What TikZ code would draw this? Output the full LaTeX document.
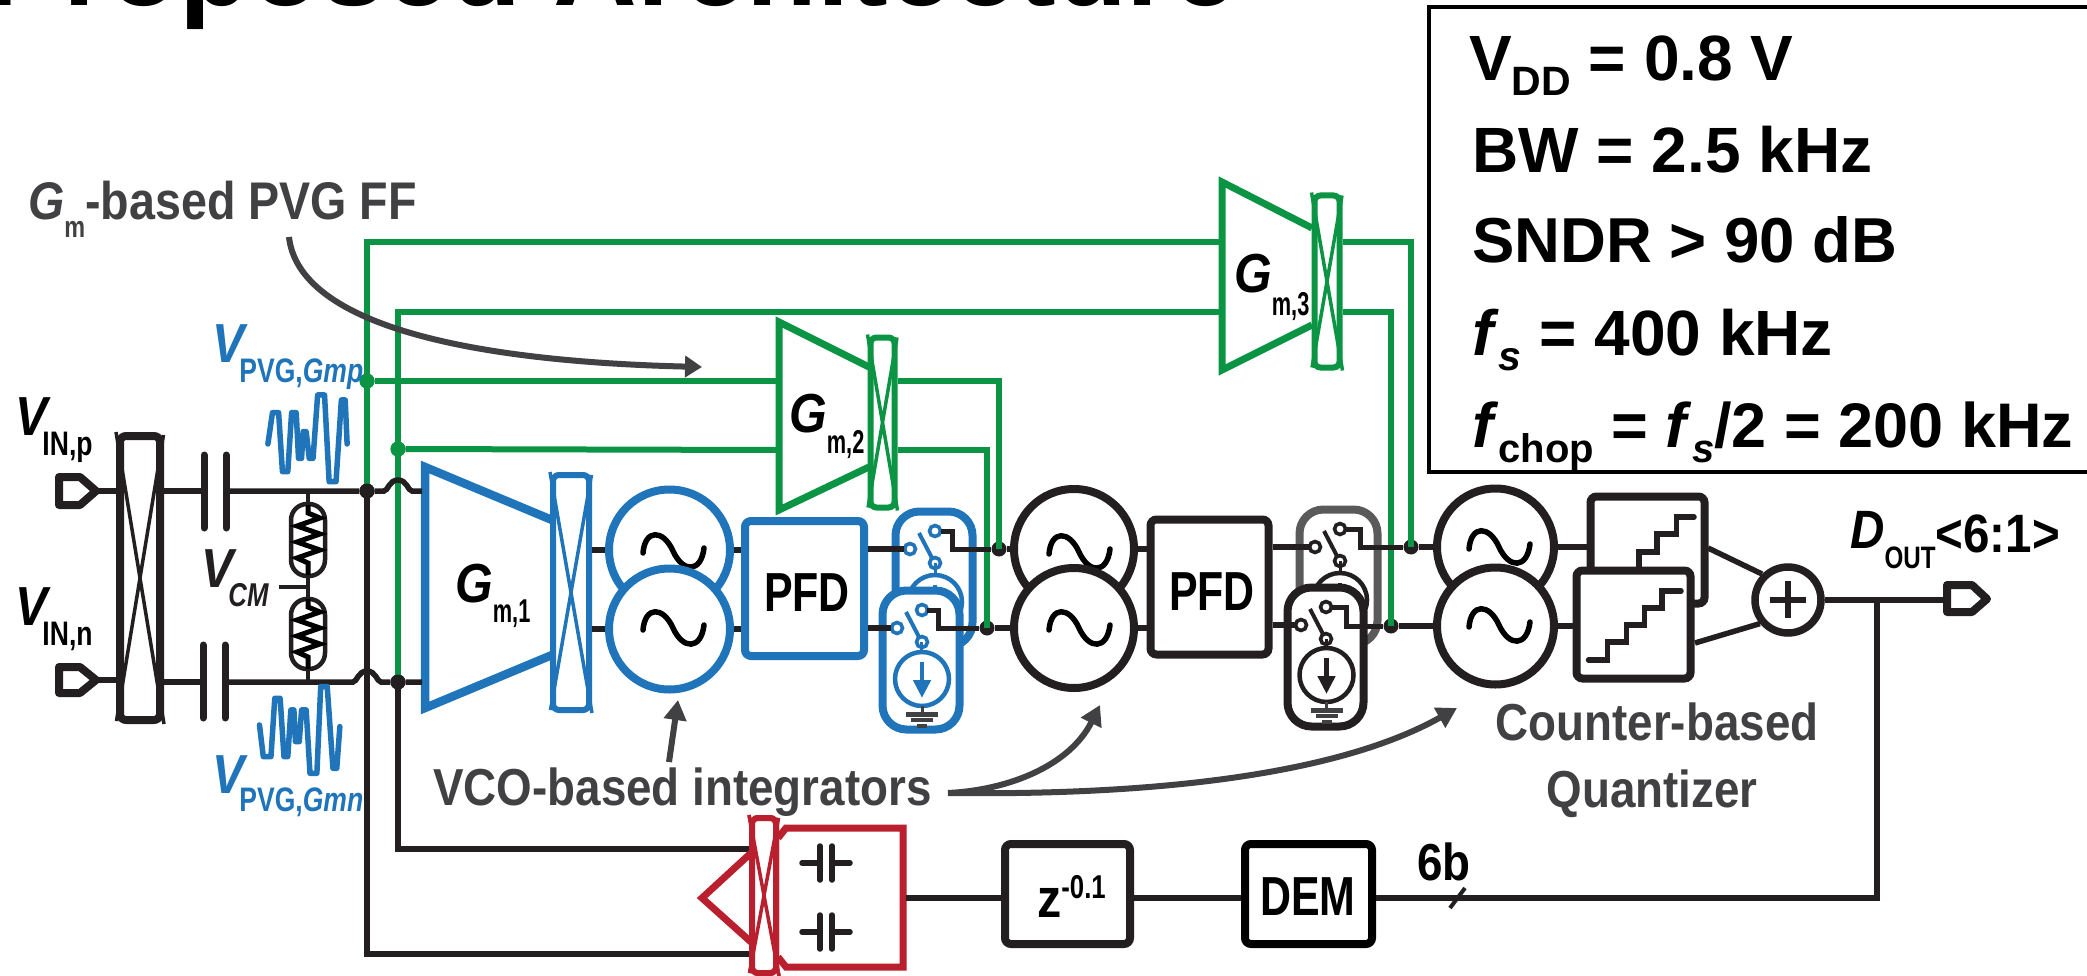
\documentclass[tikz,border=0pt]{standalone}
\usepackage{fontspec}
\usepackage{graphicx}
\setmainfont{Liberation Sans}
\newfontfamily\nar[FakeStretch=0.88]{Liberation Sans}
\newfontfamily\narr[FakeStretch=0.78]{Liberation Sans}
\newfontfamily\narrr[FakeStretch=0.66]{Liberation Sans}
\usetikzlibrary{arrows.meta,calc}
\definecolor{cblue}{HTML}{1F74BA}
\definecolor{cgreen}{HTML}{0B9444}
\definecolor{cred}{HTML}{BA1F2E}
\definecolor{cblack}{HTML}{231F20}
\definecolor{cgrey}{HTML}{414042}
\definecolor{cswgrey}{HTML}{5A5A5A}
\newcommand\fs[1]{\fontsize{#1}{#1}\selectfont}
\newcommand\lowr[3]{\raisebox{-#1pt}{\fontsize{#2}{#2}\selectfont #3}}
\newcommand\chopper[7]{%
  \node[draw=#6,line width=#7pt,rounded corners=6pt,minimum width=#4pt,minimum height=#5pt,inner sep=0pt,fill=white] (#1) at (#2,#3) {};
  \draw[#6,line width=3.5pt,shorten <=3pt,shorten >=3pt] (#1.north west)--(#1.south east) (#1.north east)--(#1.south west);}
\tikzset{
  wire/.style={cblack,line width=5.5pt},
  gw/.style={cgreen,line width=6pt},
  thk/.style={cblack,line width=7pt,line cap=round},
  jdot/.style={circle,fill=cblack,inner sep=0pt,minimum size=15pt},
  gdot/.style={circle,fill=cgreen,inner sep=0pt,minimum size=15pt},
  vco/.style={circle,draw=#1,fill=white,line width=8pt,inner sep=0pt},
  blk/.style={rectangle,draw=#1,fill=white,line width=8pt,rounded corners=6pt,inner sep=0pt},
  swbox/.style={rectangle,draw=#1,fill=white,line width=8pt,rounded corners=24pt,inner sep=0pt},
  txt/.style={inner sep=0pt,anchor=base west},
  ctxt/.style={inner sep=0pt,anchor=base},
  pill/.style={rectangle,draw=cblack,fill=white,line width=4.5pt,rounded corners=16pt,inner sep=0pt,minimum width=34pt},
  gra/.style={cgrey,line width=6pt,-{Triangle[length=20pt,width=22pt]}},
  pics/tilde/.style={code={\draw[black,line width=5.5pt,line cap=round] (-30,2) .. controls (-28,-22) and (-10,-22) .. (0,0) .. controls (10,22) and (28,22) .. (31,-3);}},
  pics/swit/.style={code={
    \draw[#1,line width=4pt] (9,-16)--(22,9);
    \draw[#1,line width=3.6pt,fill=white] (0,0) circle (5.5pt) (25,-18) circle (5.5pt) (25,14) circle (5.5pt);}},
  pics/curs/.style={code={
    \draw[#1,line width=4.5pt,fill=white] (0,0) circle (27pt);
    \draw[#1,line width=4.5pt,-{Triangle[length=18pt,width=17pt]}] (0,-17)--(0,19);
    \draw[cgrey,line width=3pt] (0,27)--(0,34);
    \draw[cgrey,line width=5pt] (-16,35)--(16,35);
    \draw[cgrey,line width=4pt] (-11,41)--(11,41);
    \draw[cgrey,line width=4pt] (-5,47)--(5,47);}},
  pics/fbcap/.style={code={
    \draw[cblack,line width=5.5pt,line cap=round] (-24,0)--(-6,0) (6,0)--(24,0) (-6,-17)--(-6,17) (6,-17)--(6,17);}},
  pics/zig/.style={code={
    \draw[black,line width=5pt,line join=miter] (0,-35)--(0,-27)--(12,-22)--(-11,-14)--(12,-6)--(-11,2)--(12,10)--(-11,18)--(0,23)--(0,35);}},
}
\begin{document}
\begin{tikzpicture}[x=1pt,y=-1pt]
\useasboundingbox (0,0) rectangle (2087,976);
\clip (0,0) rectangle (2087,976);
\fill[white] (0,0) rectangle (2087,976);

% title
\node[txt,font=\fs{116}\bfseries] (title) at (-14,6) {Proposed Architecture};

% spec box
\draw[black,line width=4.5pt] (2095,7) -- (1429,7) -- (1429,472) -- (2095,472);
\node[txt,font=\fs{64}\bfseries] (s1) at (1469,81) {V\lowr{15}{41}{DD} = 0.8 V};
\node[txt,font=\fs{64}\bfseries] (s2) at (1472,173) {BW = 2.5 kHz};
\node[txt,font=\fs{63.5}\bfseries] (s3) at (1472,263) {SNDR > 90 dB};
\node[txt,font=\fs{64}\bfseries] (s4) at (1472,355) {\textit{f}\lowr{15}{41}{\textit{s}} = 400 kHz};
\node[txt,font=\fs{63}\bfseries] (s5) at (1472,447) {\textit{f}\lowr{15}{40}{chop} = \textit{f}\lowr{15}{40}{\textit{s}}/2 = 200 kHz};

% ===== named anchor points
\coordinate (gA) at (367,242);
\coordinate (gB) at (398,312);
\coordinate (gm3a) at (1220,242);
\coordinate (gm3b) at (1220,312);
\coordinate (gm2a) at (777,381);
\coordinate (gm2b) at (777,450);

% ===== Gm2 and Gm3 (green)
\draw[cgreen,line width=7pt,line join=miter,fill=white] (1312,228) -- (1222,182) -- (1222,370) -- (1312,325);
\draw[cgreen,line width=7pt,line join=miter,fill=white] (869,367) -- (779,322) -- (779,510) -- (869,467);
\chopper{ch3}{1327}{281.5}{25}{172}{cgreen}{6}
\chopper{ch2}{882.5}{422.5}{24}{170}{cgreen}{6}
\node[txt,font=\fs{55}\nar\bfseries] (g3t) at (1234,292) {\textit{G}\lowr{23}{33}{\narrr m,3}};
\node[txt,font=\fs{55}\nar\bfseries] (g2t) at (789,432) {\textit{G}\lowr{21}{33}{\narrr m,2}};

% ===== junction dots first positions
\node[jdot] (d1) at (367,491) {};
\node[jdot] (d2) at (398,682) {};
\node[jdot] (dU2) at (999,549) {};
\node[jdot] (dD2) at (987,628) {};
\node[jdot] (dU3) at (1411,547) {};
\node[jdot] (dD3) at (1391,626) {};
\node[gdot] (gd1) at (367,381) {};
\node[gdot] (gd2) at (398,449) {};

% green connectors
\draw[gw,line join=miter] (d1.center) -- (gA) -- (gm3a);
\draw[gw,line join=miter] (d2.center) -- (gB) -- (gm3b);
\draw[gw] (gd1) -- (gm2a);
\draw[gw] (gd2) -- (gm2b);
\draw[gw,line join=miter] (ch3.east |- gA) -| (dU3.center);
\draw[gw,line join=miter] (ch3.east |- gB) -| (dD3.center);
\draw[gw,line join=miter] (ch2.east |- gm2a) -| (dU2.center);
\draw[gw,line join=miter] (ch2.east |- gm2b) -| (dD2.center);
\node[gdot] at (gd1) {};
\node[gdot] at (gd2) {};

% ===== input pads
\draw[cblack,line width=8pt,line join=round] (59,477) -- (80,477) -- (96,491) -- (80,505) -- (59,505) -- cycle;
\draw[cblack,line width=8pt,line join=round] (59,667) -- (80,667) -- (96,680) -- (80,693) -- (59,693) -- cycle;
\coordinate (padp) at (97,491);
\coordinate (padn) at (97,680);
\chopper{ch0}{140}{578}{40}{284}{cblack}{8}
\draw[wire] (padp) -- (ch0.west |- padp);
\draw[wire] (padn) -- (ch0.west |- padn);
% caps
\coordinate (cu1) at (204,491);
\coordinate (cu2) at (226,491);
\coordinate (cd1) at (203,682);
\coordinate (cd2) at (225,682);
\draw[wire] (ch0.east |- cu1) -- (cu1);
\draw[wire] (ch0.east |- cd1) -- (cd1);
\draw[thk] (204,455)--(204,528) (226,455)--(226,528) (203,645)--(203,718) (225,645)--(225,718);

% ===== Gm1
\chopper{ch1}{571}{592.5}{36}{235}{cblue}{6}
\draw[cblue,line width=8.5pt,line join=miter] (552,520) -- (425,467) -- (425,708) -- (552,655);
\coordinate (g1a) at (422,491);
\coordinate (g1b) at (422,682);
\node[txt,font=\fs{55}\nar\bfseries] (g1t) at (455,602) {\textit{G}\lowr{20}{33}{\narrr m,1}};

% input wires with hops
\draw[wire] (cu2) -- (d1) -- (384,491) .. controls (388,491) and (389,480) .. (398,480) .. controls (407,480) and (408,491) .. (412,491) -- (g1a);
\draw[wire] (cd2) -- (353,682) .. controls (357,682) and (358,671) .. (367,671) .. controls (376,671) and (377,682) .. (381,682) -- (d2) -- (g1b);

% resistors
\draw[wire,line width=4.5pt] (308,491) -- (308,682);
\node[pill,minimum height=72pt] (r1) at (308,540) {};
\node[pill,minimum height=70pt] (r2) at (308,634) {};
\pic at (308,540) {zig};
\pic at (308,634) {zig};
\draw[wire,line width=4.5pt] (279,587) -- (308,587);

% noise waveforms
\begin{scope}[shift={(0,320)},x=0.3827pt,y=-0.3333pt]
\draw[cblue,line width=5.5pt,line join=round,line cap=round] (700,372)--(712,278)--(728,278)--(738,455)--(752,455)--(762,278)--(774,278)--(780,415)--(788,415)--(792,335)--(800,335)--(808,415)--(818,415)--(830,225)--(848,225)--(860,485)--(878,485)--(892,240)--(902,240)--(907,372);
\draw[cblue,line width=5.5pt,line join=round,line cap=round] (678,1215)--(688,1310)--(708,1310)--(718,1135)--(732,1135)--(742,1310)--(752,1310)--(760,1170)--(768,1170)--(772,1265)--(782,1265)--(788,1170)--(800,1170)--(810,1360)--(828,1360)--(838,1100)--(855,1100)--(870,1345)--(880,1345)--(888,1220);
\end{scope}

% black below-feedback lines
\coordinate (fbT) at (398,849);
\coordinate (fbB) at (367,954);
\chopper{chr}{764}{895.5}{24}{155}{cred}{6}
\draw[wire] (d1.center) -- (fbB) -- (chr.west |- fbB);
\draw[wire] (d2.center) -- (fbT) -- (chr.west |- fbT);
\node[jdot] at (d1) {};
\node[jdot] at (d2) {};

% ===== stage 1 VCOs
\node[vco=cblue,minimum size=121pt] (v1u) at (669.5,550) {};
\pic at (673,551) {tilde};
\node[vco=cblue,minimum size=121pt] (v1d) at (669.5,629) {};
\pic at (673,628) {tilde};
\node[blk=cblue,minimum width=119pt,minimum height=135pt] (pfd1) at (804.5,588.5) {};
\node[ctxt,font=\fs{55}\narr\bfseries] (pfd1t) at (807,611) {PFD};
\draw[wire] (ch1.east |- v1u) -- (v1u.west);
\draw[wire] (ch1.east |- v1d) -- (v1d.west);
\draw[wire] (v1u.east) -- (pfd1.west |- v1u);
\draw[wire] (v1d.east) -- (pfd1.west |- v1d);

% switches stage 1
\node[swbox=cblue,minimum width=77pt,minimum height=135pt] (sb1u) at (934,579) {};
\coordinate (t1u) at (910,549);
\pic at (t1u) {swit=cblue};
\draw[cblue,line width=3pt] (935,563)--(935,575);
\pic at (935,602) {curs=cblue};
\node[swbox=cblue,minimum width=77pt,minimum height=139pt] (sb1d) at (921,660) {};
\coordinate (t1d) at (897,628);
\pic at (t1d) {swit=cblue};
\draw[cblue,line width=3pt] (921,642)--(921,652);
\pic at (922,679) {curs=cblue};
\draw[wire] (pfd1.east |- t1u) -- ([xshift=-6pt]t1u);
\draw[wire,line width=5pt] (941,531) -- (952,531) -- (952,549) -- (dU2);
\draw[wire] (pfd1.east |- t1d) -- ([xshift=-6pt]t1d);
\draw[wire,line width=5pt] (927,610) -- (938,610) -- (938,628) -- (dD2);

% ===== stage 2
\node[vco=cblack,minimum size=120pt] (v2u) at (1074,549) {};
\pic at (1079,552) {tilde};
\node[vco=cblack,minimum size=120pt] (v2d) at (1074,628) {};
\pic at (1079,628) {tilde};
\draw[wire] (dU2) -- (v2u.west);
\draw[wire] (dD2) -- (v2d.west);
\node[blk=cblack,minimum width=118pt,minimum height=135pt] (pfd2) at (1209.5,587) {};
\node[ctxt,font=\fs{55}\narr\bfseries] (pfd2t) at (1212,610) {PFD};
\draw[wire] (v2u.east) -- (pfd2.west |- v2u);
\draw[wire] (v2d.east) -- (pfd2.west |- v2d);

\node[swbox=cswgrey,minimum width=78pt,minimum height=135pt] (sb2u) at (1338.5,577) {};
\coordinate (t2u) at (1315,547);
\pic at (t2u) {swit=cblack};
\draw[cblack,line width=3pt] (1340,561)--(1340,573);
\pic at (1340,600) {curs=cblack};
\node[swbox=cblack,minimum width=76pt,minimum height=139pt] (sb2d) at (1325.5,657) {};
\coordinate (t2d) at (1301,625);
\pic at (t2d) {swit=cblack};
\draw[cblack,line width=3pt] (1326,639)--(1326,648);
\pic at (1326.5,675) {curs=cblack};
\draw[wire] (pfd2.east |- t2u) -- ([xshift=-6pt]t2u);
\draw[wire,line width=5pt] (1345,529) -- (1360,529) -- (1360,547) -- (dU3);
\draw[wire] (pfd2.east |- t2d) -- ([xshift=-6pt]t2d);
\draw[wire,line width=5pt] (1332,607) -- (1346,607) -- (1346,626) -- (dD3);

% ===== stage 3
\node[vco=cblack,minimum size=117pt] (v3u) at (1495.5,547) {};
\pic at (1499,547) {tilde};
\node[vco=cblack,minimum size=117pt] (v3d) at (1495.5,626) {};
\pic at (1499,625) {tilde};
\draw[wire] (dU3) -- (v3u.west);
\draw[wire] (dD3) -- (v3d.west);

\node[blk=cblack,minimum width=114pt,minimum height=107pt] (qu) at (1647.5,550) {};
\draw[cblack,line width=5.5pt,line cap=round] (1639,570)--(1639,552)--(1657,552)--(1657,534)--(1676.5,534)--(1676.5,517)--(1694,517);
\node[blk=cblack,minimum width=114pt,minimum height=108pt] (qd) at (1633.5,624.5) {};
\draw[cblack,line width=5.5pt,line cap=round] (1588.5,660)--(1607.6,660)--(1607.6,642)--(1626.7,642)--(1626.7,625)--(1644.7,625)--(1644.7,608)--(1662,608)--(1662,591)--(1681,591);
\draw[wire] (v3u.east) -- (qu.west |- v3u);
\draw[wire] (v3d.east) -- (qd.west |- v3d);

\node[circle,draw=cblack,fill=white,line width=7.5pt,inner sep=0pt,minimum size=66pt] (sum) at (1788,600) {};
\draw[cblack,line width=6pt] (1770,600)--(1806,600) (1788,581)--(1788,618);
\coordinate (qu1) at (1708,548);
\coordinate (qd1) at (1695,643);
\draw[wire] (qu1) -- (sum.135);
\draw[wire] (qd1) -- (sum.220);

% output
\coordinate (tapp) at (1877,600);
\draw[cblack,line width=8pt,line join=round] (1947,585) -- (1972,585) -- (1987,599) -- (1972,612) -- (1947,612) -- cycle;
\coordinate (outp) at (1944,600);
\draw[wire] (sum.east) -- (outp);
\node[txt,font=\fs{54}\nar\bfseries] (dout) at (1850,548) {\textit{D}\lowr{20}{31}{\narr OUT}\raisebox{-4pt}{<6:1>}};

% ===== feedback DAC
\draw[cred,line width=7pt,line join=miter] (778,838) -- (786,828) -- (903,828) -- (903,967) -- (786,967) -- (778,957);
\chopper{chr2}{764}{895.5}{24}{155}{cred}{6}
\draw[cred,line width=7pt,line join=miter] (751,853) -- (702,898) -- (751,942);
\pic at (826,863) {fbcap};
\pic at (826,932) {fbcap};
\coordinate (dac) at (906,898);
\node[blk=cblack,minimum width=125pt,minimum height=100pt] (zb) at (1067.5,894) {};
\node[txt,font=\fs{55}\nar\bfseries] (zt) at (1037,917) {z\raisebox{19pt}{\fontsize{33}{33}\selectfont\narr -0.1}};
\node[blk=black,minimum width=127pt,minimum height=100pt] (dem) at (1308.5,894) {};
\node[ctxt,font=\fs{55}\narr\bfseries] (demt) at (1308,915) {DEM};
\draw[wire] (dac) -- (zb.west |- dac);
\draw[wire] (zb.east |- dac) -- (dem.west |- dac);
\draw[wire,line join=miter] (dem.east |- dac) -| (tapp);
\draw[wire,line width=4pt] (1450,908) -- (1465,888);
\node[txt,font=\fs{52}\nar\bfseries] (sixb) at (1417,880) {6b};

% ===== labels
\node[txt,font=\fs{55}\nar\bfseries\itshape] (vinp) at (15,435) {V\hspace{-5pt}\lowr{20}{34}{\upshape\narr IN,p}};
\node[txt,font=\fs{55}\nar\bfseries\itshape] (vinn) at (15,625) {V\hspace{-5pt}\lowr{20}{34}{\upshape\narr IN,n}};
\node[txt,cblack,font=\fs{55}\nar\bfseries\itshape] (vcm) at (201,587) {V\hspace{-5pt}\lowr{19}{33}{\narr CM}};
\node[txt,cblue,font=\fs{55}\nar\bfseries\itshape] (vpp) at (212,362) {V\hspace{-5pt}\lowr{20}{34}{\upshape\narr PVG,\textit{Gmp}}};
\node[txt,cblue,font=\fs{55}\nar\bfseries\itshape] (vpn) at (212,793) {V\hspace{-5pt}\lowr{18}{34}{\upshape\narr PVG,\textit{Gmn}}};

\node[txt,cgrey,font=\fs{53}\nar\bfseries] (gml) at (28,220) {\textit{G}\lowr{18}{30}{\narr m}-based PVG FF};
\node[txt,cgrey,font=\fs{52}\nar\bfseries] (vcol) at (433,805) {VCO-based integrators};
\node[ctxt,cgrey,font=\fs{52}\nar\bfseries] (cq1) at (1657,740) {Counter-based};
\node[ctxt,cgrey,font=\fs{52}\nar\bfseries] (cq2) at (1652,807) {Quantizer};

% ===== annotation arrows
\coordinate (a0) at (289,237);
\coordinate (a0e) at (702,367);
\draw[cgrey,line width=6pt,-{Triangle[length=17pt,width=21pt]}] (a0) .. controls (297,310) and (420,360) .. (a0e);
\coordinate (a1) at (669,762);
\coordinate (a1e) at (678,700);
\draw[gra] (a1) -- (a1e);
\coordinate (a2) at (948,793);
\coordinate (a2e) at (1100,705);
\coordinate (a3e) at (1457,708);
\draw[gra] (a2) .. controls (1010,790) and (1070,765) .. (a2e);
\draw[gra] (a2) .. controls (1100,795) and (1320,785) .. (a3e);
\end{tikzpicture}
\end{document}
